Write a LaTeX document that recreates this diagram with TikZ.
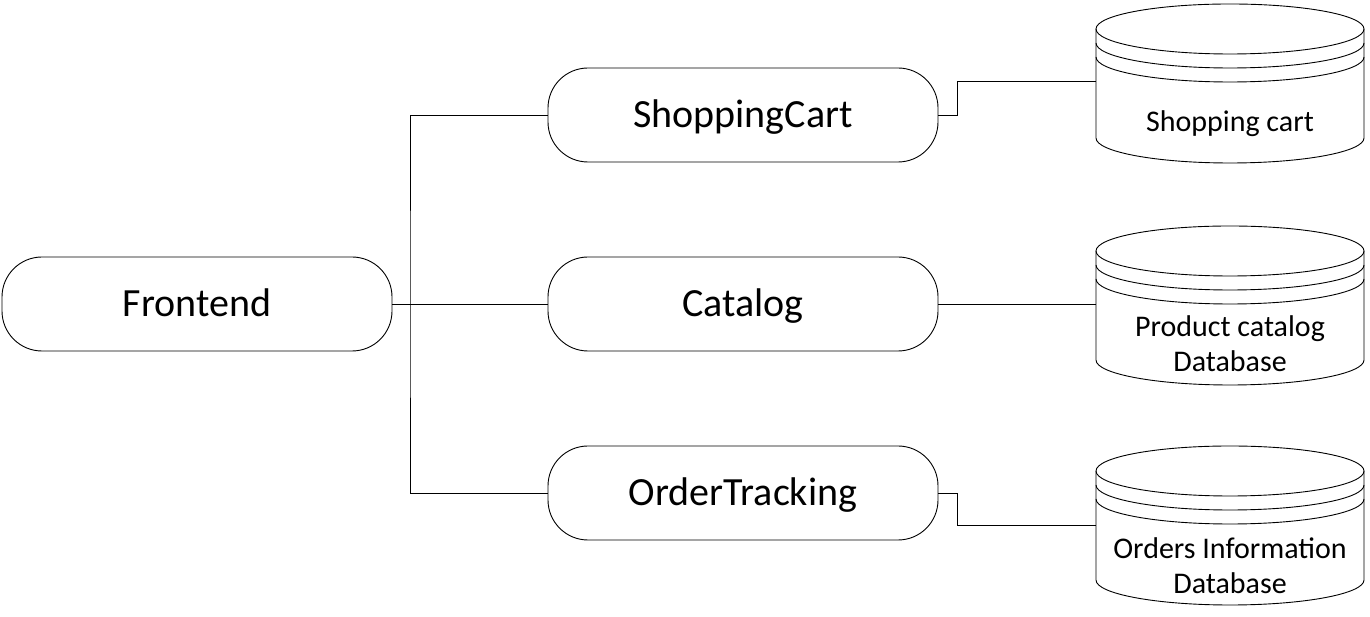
\documentclass[tikz,border=0pt]{standalone}
\usepackage{fontspec}
\setmainfont{Carlito}
\begin{document}
\begin{tikzpicture}[x=1pt,y=1pt,
  svc/.style={draw, line width=0.9pt, rounded corners=40pt, minimum width=390pt, minimum height=94pt, inner sep=0pt, text height=30pt, text depth=4pt, font=\fontsize{40}{46}\selectfont},
  dbarea/.style={minimum width=268pt, minimum height=159pt, inner sep=0pt},
  dbtext/.style={align=center, inner sep=0pt, font=\fontsize{30}{35}\selectfont},
  conn/.style={line width=0.9pt},
  cylline/.style={line width=0.9pt}]
\useasboundingbox (0,0) rectangle (1370,617);

\node[svc] (fe) at (197,313) {Frontend};
\node[svc] (sc) at (743,502) {ShoppingCart};
\node[svc] (cat) at (743,313) {Catalog};
\node[svc] (ot) at (743,124) {OrderTracking};

\newcommand{\mycyl}[4]{%
  \draw[cylline] (1096,#2-25) -- (1096,#2-134) arc[start angle=180,end angle=360,x radius=134,y radius=25] -- (1364,#2-25);
  \draw[cylline] (1230,#2-25) ellipse [x radius=134, y radius=25];
  \draw[cylline] (1096,#2-39) arc[start angle=180,end angle=360,x radius=134,y radius=25];
  \draw[cylline] (1096,#2-53) arc[start angle=180,end angle=360,x radius=134,y radius=25];
  \node[dbarea] (#1) at (1230,#2-79.5) {};
  \node[dbtext] (#1t) at (1230,#2-#4) {#3};
}
\mycyl{db1}{613}{Shopping cart}{120}
\mycyl{db2}{391}{Product catalog\\Database}{118}
\mycyl{db3}{171}{Orders Information\\Database}{120}

\coordinate (j) at (410,313);
\draw[conn] (fe.east) -- (j);
\draw[conn] (sc.west) -| (j) |- (ot.west);
\draw[conn] (j) -- (cat.west);

\draw[conn] (sc.east) -- ++(19,0) |- ([yshift=2pt]db1.west);
\draw[conn] (cat.east) -- (cat.east -| db2.west);
\draw[conn] (ot.east) -- ++(19,0) |- (db3.west);
\end{tikzpicture}
\end{document}
